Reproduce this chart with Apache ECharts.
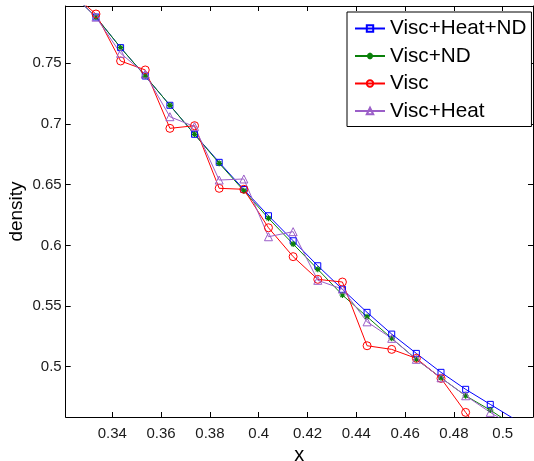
<!DOCTYPE html>
<html>
<head>
<meta charset="utf-8">
<script src="https://cdn.jsdelivr.net/npm/echarts@6/dist/echarts.min.js"></script>
<style>html,body{margin:0;padding:0;background:#fff;}#c{width:534px;height:461px;}</style>
</head>
<body>
<div id="c"></div>
<script>
var xValues = [0.3232,0.3333,0.3434,0.3535,0.3636,0.3737,0.3838,0.3939,0.4040,0.4141,0.4242,0.4343,0.4444,0.4545,0.4646,0.4747,0.4848,0.4949,0.5051];
var viscHeatND = [0.808,0.7881,0.7629,0.7395,0.7154,0.6915,0.6684,0.646,0.6244,0.6038,0.5832,0.5638,0.5448,0.5269,0.511,0.4954,0.4814,0.469,0.4565];
var viscND     = [0.808,0.7881,0.7629,0.7395,0.7154,0.6915,0.6676,0.645,0.6223,0.6011,0.5803,0.5591,0.5412,0.5234,0.5061,0.4909,0.4761,0.4643,0.4508];
var visc       = [0.808,0.7906,0.7519,0.7445,0.6964,0.6986,0.647,0.6462,0.6145,0.5907,0.572,0.5698,0.5173,0.5143,0.5069,0.4904,0.4624,0.435];
var viscHeat   = [0.808,0.788,0.7582,0.7412,0.706,0.6978,0.6538,0.6547,0.6071,0.6113,0.5712,0.564,0.537,0.5234,0.5061,0.4909,0.4761,0.4624,0.450];
var xTicks = [0.34,0.36,0.38,0.40,0.42,0.44,0.46,0.48,0.50];
var yTicks = [0.50,0.55,0.60,0.65,0.70,0.75];
var seriesNames = ['Visc+Heat+ND','Visc+ND','Visc','Visc+Heat'];

function pairs(ys){ return ys.map(function(y,i){ return [xValues[i], y]; }); }
function fmt(v){ return String(+(+v).toFixed(2)); }

var xMin = 0.3209, xMax = 0.5124, yMin = 0.4586, yMax = 0.7972;
var font = 'Liberation Sans, Arial, Helvetica, sans-serif';

function mkX(pos, labels){
  return {
    type:'value', position:pos, min:xMin, max:xMax,
    axisLine:{show:true, onZero:false, lineStyle:{color:'#000', width:1}},
    axisTick:{show:true, inside:true, length:5, customValues:xTicks, lineStyle:{color:'#000'}},
    axisLabel:{show:labels, customValues:xTicks, formatter:fmt, fontSize:15, color:'#1a1a1a', fontFamily:font, margin:9},
    splitLine:{show:false},
    name: labels ? 'x' : '', nameLocation:'middle', nameGap:28,
    nameTextStyle:{fontSize:20, color:'#000', fontFamily:font}
  };
}
function mkY(pos, labels){
  return {
    type:'value', position:pos, min:yMin, max:yMax,
    axisLine:{show:true, onZero:false, lineStyle:{color:'#000', width:1}},
    axisTick:{show:true, inside:true, length:5, customValues:yTicks, lineStyle:{color:'#000'}},
    axisLabel:{show:labels, customValues:yTicks, formatter:fmt, fontSize:15, color:'#1a1a1a', fontFamily:font, margin:4},
    splitLine:{show:false},
    name: labels ? 'density' : '', nameLocation:'middle', nameGap:39, nameRotate:90, nameMoveOverlap:false,
    nameTextStyle:{fontSize:19, color:'#000', fontFamily:font}
  };
}
var star = 'path://M5,0L5,10M0,5L10,5M1.6,1.6L8.4,8.4M8.4,1.6L1.6,8.4';
function mkS(name, data, color, symbol, size, bw){
  return {
    type:'line', name:name, data:pairs(data), xAxisIndex:0, yAxisIndex:0,
    symbol:symbol, symbolSize:size, showSymbol:true, clip:true,
    lineStyle:{color:color, width:1},
    itemStyle:{color: symbol===star ? color : 'rgba(0,0,0,0)', borderColor:color, borderWidth:bw},
    emphasis:{disabled:true}
  };
}

var chart = echarts.init(document.getElementById('c'), null, {renderer:'canvas'});
chart.setOption({
  animation:false,
  backgroundColor:'#fff',
  grid:{left:65.7, top:6, right:1, bottom:44, containLabel:false, outerBoundsMode:'none'},
  xAxis:[mkX('bottom', true), mkX('top', false)],
  yAxis:[mkY('left', true), mkY('right', false)],
  legend:{
    show:true, data:seriesNames, orient:'vertical', left:347, top:12,
    backgroundColor:'#fff', borderColor:'#000', borderWidth:1, borderRadius:0,
    padding:[6,5,5,7], itemWidth:30, itemHeight:8, itemGap:6.5,
    textStyle:{fontSize:20.7, color:'#000', fontFamily:font, lineHeight:21},
    selectedMode:false
  },
  series:[
    mkS(seriesNames[0], viscHeatND, '#0000ff', 'rect', 6, 1),
    mkS(seriesNames[1], viscND, '#0a800a', star, 6, 1.2),
    mkS(seriesNames[2], visc, '#ff0000', 'circle', 8, 1),
    mkS(seriesNames[3], viscHeat, '#9b5fc8', 'triangle', 8, 1)
  ]
});
</script>
</body>
</html>
